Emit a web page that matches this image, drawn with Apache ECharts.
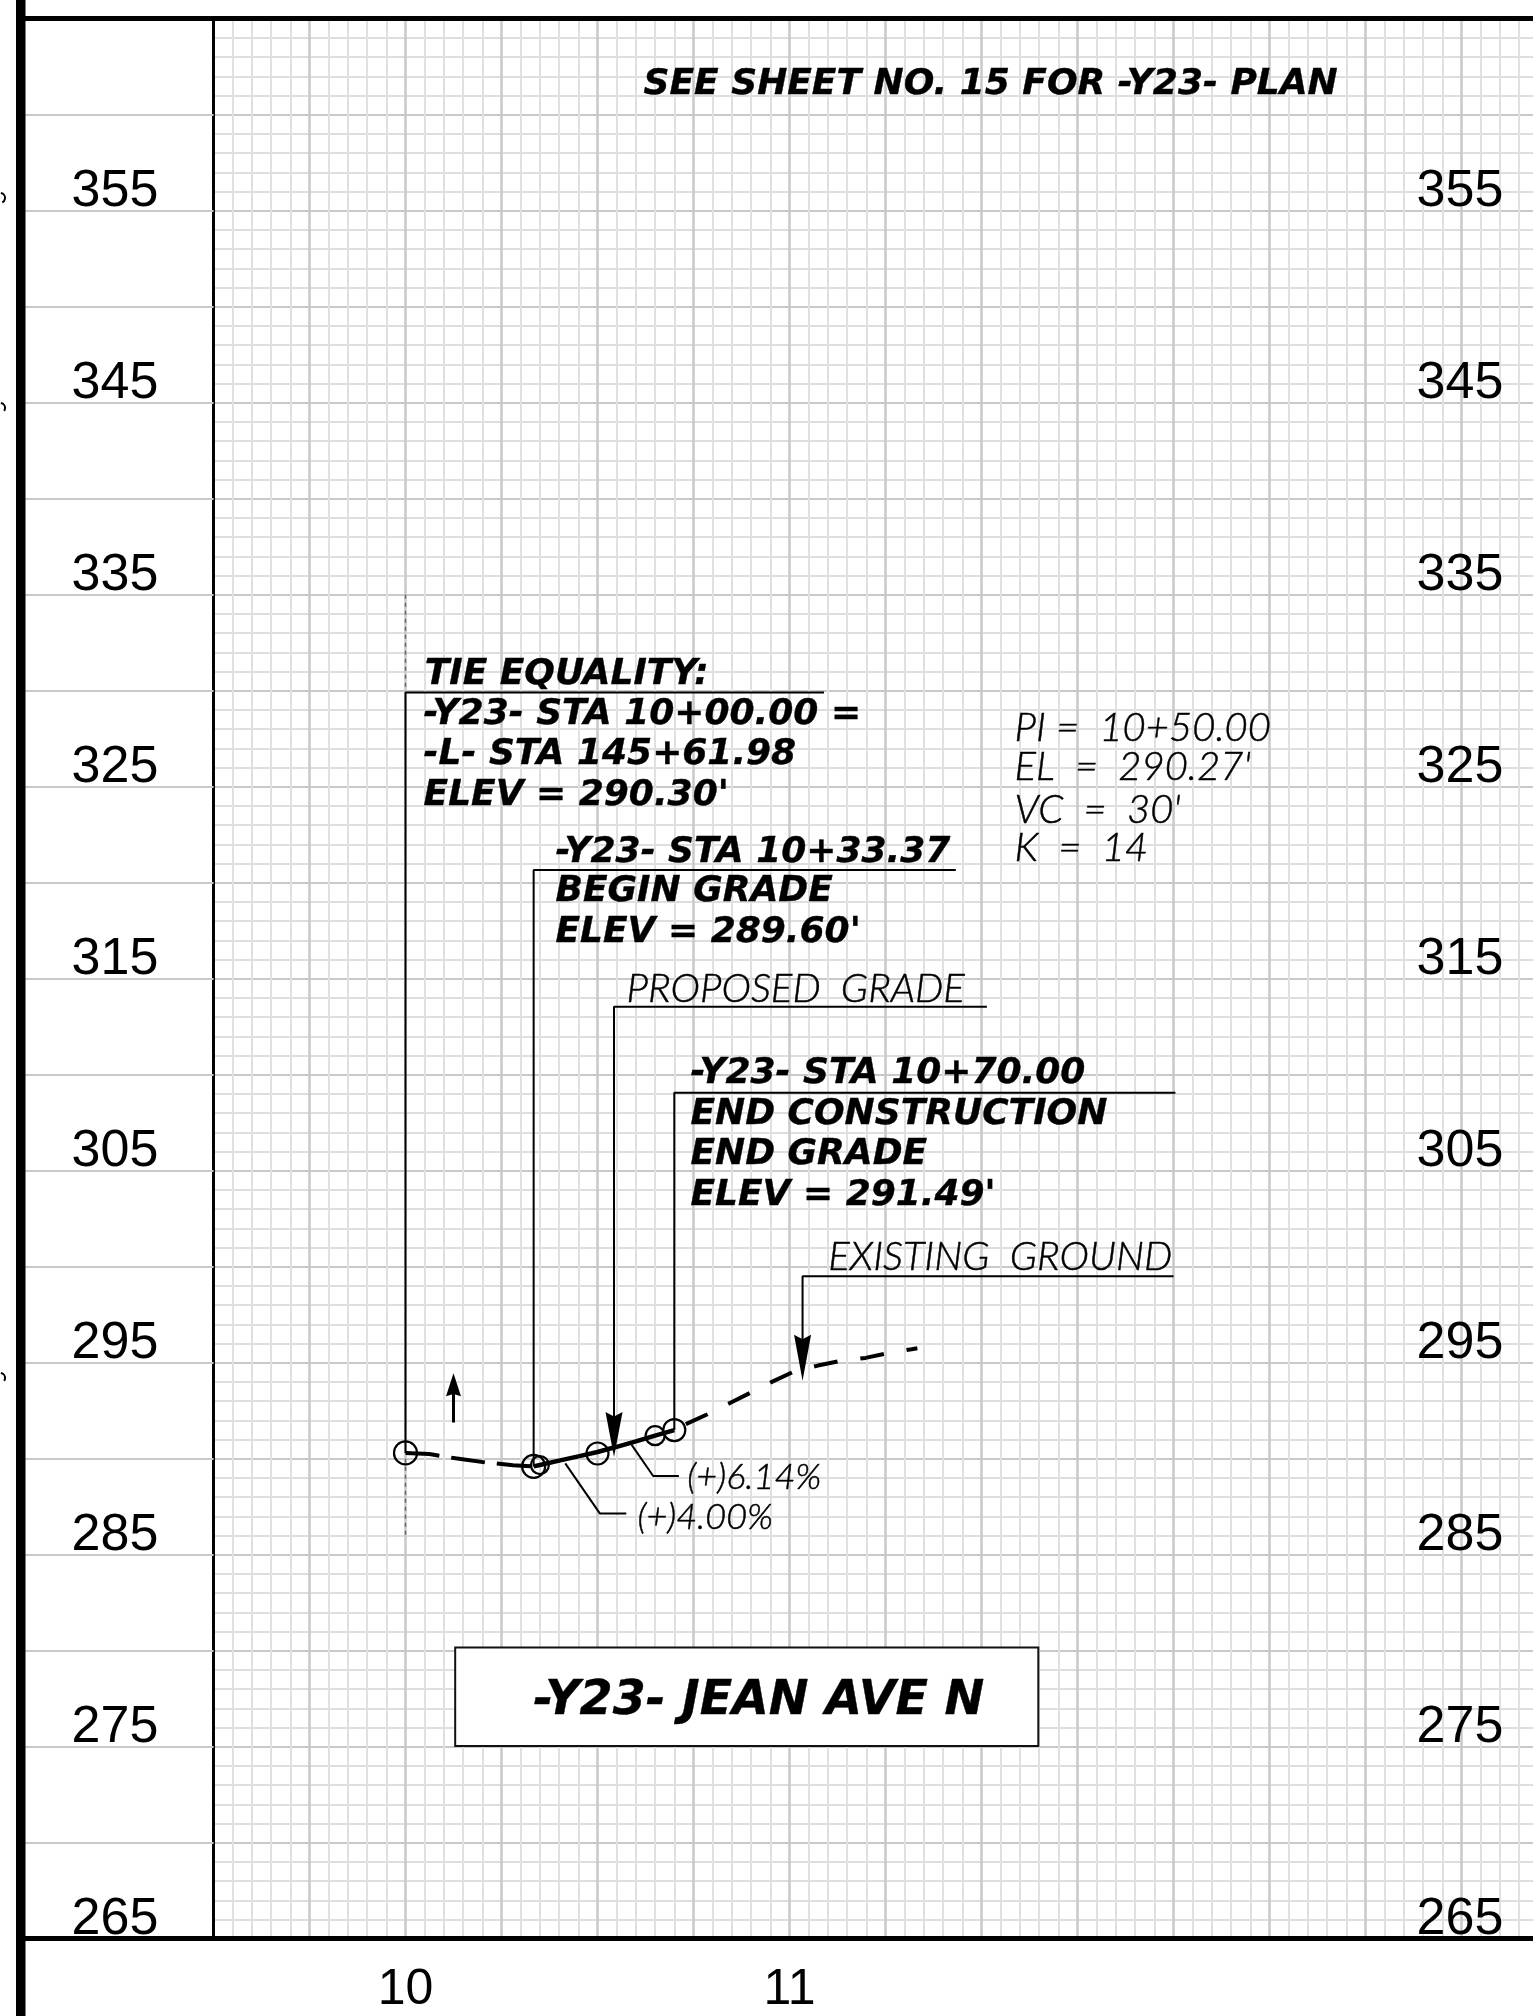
<!DOCTYPE html>
<html>
<head>
<meta charset="utf-8">
<title>-Y23- JEAN AVE N</title>
<style>
  html, body { margin: 0; padding: 0; background: #fff; overflow: hidden; }
  /* sheet runs past the window on the right, same as the scan */
  #main { width: 1558px; height: 2016px; }
</style>
<script src="https://cdn.jsdelivr.net/npm/echarts@6/dist/echarts.min.js"></script>
</head>
<body>
<div id="main"></div>
<script>
// axis labels
const stationTicks = { 1000: '10', 1100: '11' };
const elevationTicks = [265, 275, 285, 295, 305, 315, 325, 335, 345, 355];

// [station ft, elevation]
const existingGroundWest = [[1000, 290.3], [1006.2, 290.24], [1013, 290.02], [1021, 289.8], [1028, 289.66], [1033.4, 289.6]];
const existingGroundEast = [[1073, 291.8], [1078.5, 292.3], [1084.5, 292.9], [1090, 293.45], [1095.4, 294.0], [1101.4, 294.56],
  [1107.4, 294.85], [1113.3, 295.1], [1119.8, 295.25], [1125.7, 295.5], [1131.8, 295.7], [1133.3, 295.75]];
const proposedGrade = [[1033.37, 289.6], [1035, 289.67], [1040, 289.9], [1045, 290.12], [1050, 290.35], [1055, 290.62], [1060, 290.9], [1065, 291.2], [1070, 291.49]];
const gradePoints = [[1000, 290.3], [1033.37, 289.6], [1035, 289.67], [1050, 290.27], [1065, 291.2], [1070, 291.49]];

// leaders from the notes down to the profile
const tieLeader = [[1109, 329.9], [1000, 329.9], [1000, 290.3]];
const beginLeader = [[1143.3, 320.66], [1033.37, 320.66], [1033.37, 289.6]];
const proposedLeader = [[1151.4, 313.54], [1054.3, 313.54], [1054.3, 290.68]];
const endLeader = [[1200.5, 309.06], [1070, 309.06], [1070, 291.49]];
const existingLeader = [[1200, 299.5], [1103.4, 299.5], [1103.4, 294.66]];
const slope400Leader = [[1041.6, 289.76], [1050.6, 287.15], [1057.5, 287.15]];
const slope614Leader = [[1058.9, 290.72], [1064.5, 289.1], [1071.2, 289.1]];
const northArrow = [[1012.5, 291.88], [1012.5, 294.15]];
const tieExtensionUp = [[1000, 335], [1000, 330]];
const tieExtensionDown = [[1000, 290], [1000, 286]];

const boldNotes = [
  ['TIE EQUALITY:', 1005, 330.97],
  ['-Y23- STA 10+00.00 =', 1004.7, 328.89],
  ['-L- STA 145+61.98', 1004.7, 326.81],
  ["ELEV = 290.30'", 1004.7, 324.68],
  ['-Y23- STA 10+33.37', 1039.06, 321.7],
  ['BEGIN GRADE', 1039.06, 319.67],
  ["ELEV = 289.60'", 1039.06, 317.54],
  ['-Y23- STA 10+70.00', 1074.2, 310.2],
  ['END CONSTRUCTION', 1074.2, 308.05],
  ['END GRADE', 1074.2, 305.97],
  ["ELEV = 291.49'", 1074.2, 303.83],
  ['SEE SHEET NO. 15 FOR -Y23- PLAN', 1062, 361.7]
];
const thinNotes = [
  ['PROPOSED  GRADE', 1057.55, 314.44],
  ['EXISTING  GROUND', 1110.1, 300.5],
  ['PI =  10+50.00', 1158.6, 328.06],
  ["EL  =  290.27'", 1158.6, 326.03],
  ["VC  =  30'", 1158.6, 323.79],
  ['K  =  14', 1158.6, 321.81]
];
const slopeNotes = [
  ['(+)6.14%', 1073.4, 289.05],
  ['(+)4.00%', 1060.4, 286.95]
];
const titleNote = ['-Y23- JEAN AVE N', 1033.3, 277.5];
const titleBox = [[1012.94, 280.17], [1164.8, 275.04]];

const boldFont = {
  fontFamily: 'DejaVu Sans', fontWeight: 'bold', fontStyle: 'italic', fontSize: 36, color: '#000',
  textBorderColor: '#000', textBorderWidth: 0.4, offset: [0, 2.5]
};
const thinFont = {
  fontFamily: 'Lato', fontWeight: 300, fontStyle: 'italic', fontSize: 40, color: '#000',
  textBorderColor: '#000', textBorderWidth: 0.5
};
const tickFont = { fontFamily: 'Liberation Sans', fontSize: 52, color: '#000' };
const arrowPath = 'path://M5 0 L10 30 L5 27 L0 30 Z';

function leader(points, width, dash) {
  return {
    type: 'line', data: points, symbol: 'none', silent: true, animation: false, z: 3,
    lineStyle: { color: '#000', width: width || 2, type: dash || 'solid', cap: 'butt' }
  };
}
function notes(rows, font) {
  return {
    type: 'scatter', symbolSize: 0, silent: true, animation: false, z: 6,
    itemStyle: { opacity: 1 },
    data: rows.map(r => ({ value: [r[1], r[2]], text: r[0] })),
    label: Object.assign({ show: true, position: 'right', distance: 0, formatter: p => p.data.text }, font)
  };
}
function arrowHead(point, rotate, size, offset) {
  return {
    type: 'scatter', data: [point], symbol: arrowPath, symbolSize: size, symbolRotate: rotate, symbolOffset: [0, offset],
    silent: true, animation: false, z: 5, itemStyle: { color: '#000', opacity: 1 }
  };
}

const chart = echarts.init(document.getElementById('main'), null, { renderer: 'canvas' });

const circleSizes = [23, 23, 18, 22, 19, 22];

chart.setOption({
  animation: false,
  backgroundColor: '#fff',
  grid: { left: 213.5, top: 18.7, width: 1344, height: 1920, containLabel: false },
  xAxis: {
    type: 'value', min: 950, max: 1300, interval: 25,
    axisLine: { show: false }, axisTick: { show: false },
    axisLabel: Object.assign({
      margin: 52, verticalAlign: 'middle', showMinLabel: true, showMaxLabel: false,
      formatter: v => stationTicks[v] || ''
    }, tickFont, { fontSize: 50 }),
    splitLine: { show: true, lineStyle: { color: '#c8c8c8', width: 2.5 } },
    minorTick: { show: false, splitNumber: 5 },
    minorSplitLine: { show: true, lineStyle: { color: '#e0e0e0', width: 2 } }
  },
  yAxis: [
    {
      type: 'value', min: 265, max: 365, interval: 5,
      axisLine: { show: true, onZero: false, lineStyle: { color: '#000', width: 3 } },
      axisTick: { show: true, length: 190, lineStyle: { color: '#c8c8c8', width: 2 } },
      axisLabel: Object.assign({
        margin: 98.5, align: 'center', verticalAlign: 'bottom', lineHeight: 38,
        formatter: v => elevationTicks.includes(v) ? String(v) : ''
      }, tickFont),
      splitLine: { show: true, lineStyle: { color: '#c8c8c8', width: 2 } },
      minorTick: { show: false, splitNumber: 5 },
      minorSplitLine: { show: true, lineStyle: { color: '#d4d4d4', width: 1.5 } }
    },
    {
      type: 'value', min: 265, max: 365, interval: 5, position: 'right',
      axisLine: { show: false }, axisTick: { show: false }, splitLine: { show: false },
      axisLabel: Object.assign({
        inside: true, margin: 97.5, align: 'center', verticalAlign: 'bottom', lineHeight: 38,
        formatter: v => elevationTicks.includes(v) ? String(v) : ''
      }, tickFont)
    }
  ],
  series: [
    // white title box over the grid
    {
      type: 'line', data: [], silent: true, z: 2,
      markArea: {
        silent: true,
        itemStyle: { color: '#fff', borderColor: '#111', borderWidth: 2, opacity: 1 },
        data: [[{ coord: titleBox[0] }, { coord: titleBox[1] }]]
      }
    },
    leader(tieLeader), leader(beginLeader), leader(proposedLeader), leader(endLeader), leader(existingLeader),
    leader(slope400Leader), leader(slope614Leader),
    leader(northArrow, 3),
    Object.assign(leader(tieExtensionUp, 1.5, [4, 4]), { lineStyle: { color: '#666', width: 1.5, type: [4, 4] } }),
    Object.assign(leader(tieExtensionDown, 1.5, [4, 4]), { lineStyle: { color: '#666', width: 1.5, type: [4, 4] } }),
    leader(existingGroundWest, 4, [34, 12]),
    leader(existingGroundEast, 4, [24, 23]),
    leader(proposedGrade, 4.5),
    arrowHead(proposedLeader[2], 180, [17, 45], -11.25),
    arrowHead(existingLeader[2], 180, [17, 46], -11.5),
    arrowHead(northArrow[1], 0, [15, 23], 5.75),
    {
      type: 'scatter', data: gradePoints, symbol: 'circle', silent: true, z: 5,
      symbolSize: (val, p) => circleSizes[p.dataIndex],
      itemStyle: { color: 'rgba(0,0,0,0)', borderColor: '#000', borderWidth: 2.2, opacity: 1 }
    },
    notes(boldNotes, boldFont),
    notes(thinNotes, thinFont),
    notes(slopeNotes, Object.assign({}, thinFont, { fontSize: 36 })),
    notes([titleNote], Object.assign({}, boldFont, { fontSize: 47.5 }))
  ],
  // sheet frame around the profile grid
  graphic: [
    { type: 'rect', z: 100, silent: true, shape: { x: 16, y: 0, width: 9.5, height: 2016 }, style: { fill: '#000' } },
    { type: 'rect', z: 100, silent: true, shape: { x: 25, y: 16, width: 1533, height: 5 }, style: { fill: '#000' } },
    { type: 'rect', z: 100, silent: true, shape: { x: 25, y: 1936, width: 1533, height: 5 }, style: { fill: '#000' } },
    { type: 'arc', z: 100, silent: true, shape: { cx: 0, cy: 198, r: 5, startAngle: -1.4, endAngle: 1.1 }, style: { stroke: '#000', fill: 'none', lineWidth: 2 } },
    { type: 'arc', z: 100, silent: true, shape: { cx: 0, cy: 408, r: 5, startAngle: -1.4, endAngle: 0.6 }, style: { stroke: '#000', fill: 'none', lineWidth: 2 } },
    { type: 'arc', z: 100, silent: true, shape: { cx: 0, cy: 1378, r: 5, startAngle: -1.4, endAngle: 0.6 }, style: { stroke: '#000', fill: 'none', lineWidth: 2 } }
  ]
});
</script>
</body>
</html>
